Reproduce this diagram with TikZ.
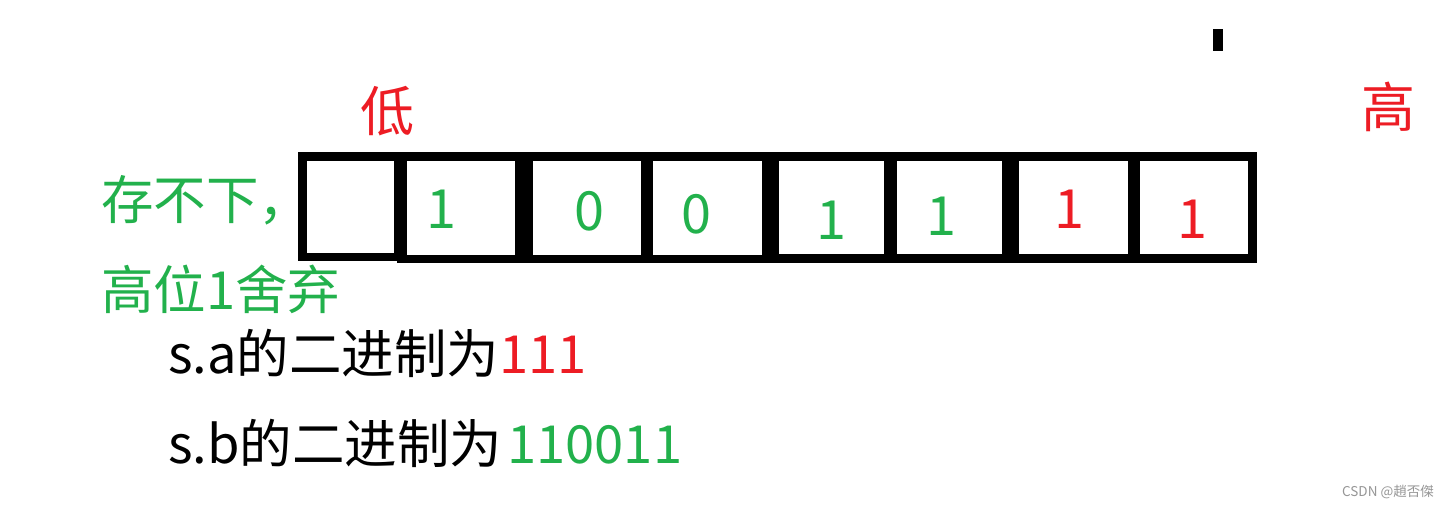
\documentclass[tikz,border=0pt]{standalone}
\usepackage{fontspec}
\newfontfamily\cjk{Noto Sans CJK SC}
\usetikzlibrary{fit}

\definecolor{bitred}{RGB}{237,28,36}
\definecolor{bitgreen}{RGB}{34,177,76}
\definecolor{markgray}{RGB}{150,150,150}

\tikzset{
	frame/.style={fill=black, inner sep=0pt},
	cell/.style={fill=white, inner sep=0pt},
	bit/.style={anchor=base, inner sep=0pt, font=\cjk\fontsize{54}{60}\selectfont},
	txt/.style={anchor=base west, inner sep=0pt, font=\cjk\fontsize{54}{60}\selectfont},
	line/.style={txt, font=\cjk\fontsize{52.5}{60}\selectfont},
}

\begin{document}
\begin{tikzpicture}[x=1pt, y=-1pt]
	\path[fill=white, use as bounding box] (0,0) rectangle (1448,507);

	%% FRAME of the bytes
	\node[frame, fit={(298,152)(397,261)}](frame_low){};
	\node[frame, fit={(397,152)(1257,263)}](frame_rest){};
	\node[frame, fit={(1213,29)(1223,51)}](tick){};

	% cells
	\node[cell, fit={(307,161)(394,253)}](cell_1){};
	\node[cell, fit={(407,161)(515,255)}](cell_2){};
	\node[cell, fit={(533,161)(641,255)}](cell_3){};
	\node[cell, fit={(653,161)(762,255)}](cell_4){};
	\node[cell, fit={(779,161)(884,254)}](cell_5){};
	\node[cell, fit={(897,161)(1002,254)}](cell_6){};
	\node[cell, fit={(1019,161)(1128,254)}](cell_7){};
	\node[cell, fit={(1140,161)(1248,254)}](cell_8){};

	%% BITS
	\node[bit, text=bitgreen] (bit_2) at (441,228) {1};
	\node[bit, text=bitgreen] (bit_3) at (589,230) {0};
	\node[bit, text=bitgreen] (bit_4) at (696,233) {0};
	\node[bit, text=bitgreen] (bit_5) at (831,239) {1};
	\node[bit, text=bitgreen] (bit_6) at (941,235) {1};
	\node[bit, text=bitred] (bit_7) at (1069,228) {1};
	\node[bit, text=bitred] (bit_8) at (1192,238) {1};

	%% LOW / HIGH
	\node[txt, text=bitred] (low) at (360,131) {低};
	\node[txt, text=bitred] (high) at (1361,127) {高};

	%% NOTES
	\node[line, text=bitgreen] (note_full) at (101,219) {存不下，};
	\node[line, text=bitgreen] (note_drop) at (101,309) {高位1舍弃};
	\node[line] (line_a) at (168,373) {s.a的二进制为\textcolor{bitred}{111}};
	\node[line] (line_b) at (168,463) {s.b的二进制为\hspace{5pt}\textcolor{bitgreen}{110011}};

	% watermark
	\node[anchor=base east, inner sep=0pt, text=markgray, font=\cjk\fontsize{13.5}{16}\selectfont] (csdn) at (1434,496) {CSDN @趙否傑};
\end{tikzpicture}
\end{document}
